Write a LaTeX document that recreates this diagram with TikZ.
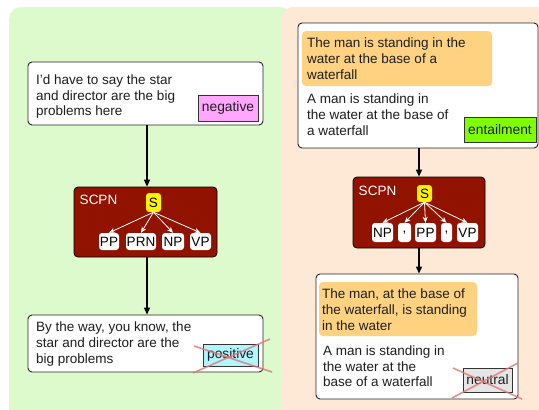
\documentclass[tikz,border=0pt]{standalone}
\usepackage{fontspec}
\setmainfont{Liberation Sans}
\usetikzlibrary{arrows.meta}
\definecolor{panelgreen}{RGB}{221,250,204}
\definecolor{panelorange}{RGB}{253,233,214}
\definecolor{scpnred}{RGB}{146,18,0}
\definecolor{premorange}{RGB}{254,210,129}
\definecolor{negpink}{RGB}{255,166,255}
\definecolor{poscyan}{RGB}{176,246,255}
\definecolor{entgreen}{RGB}{128,255,0}
\definecolor{neugray}{RGB}{229,229,229}
\definecolor{crossred}{RGB}{222,120,120}
\definecolor{txt}{RGB}{30,30,30}
\tikzset{
  panel/.style={rounded corners=12pt, draw=none},
  textbox/.style={draw=black!85, fill=white, rounded corners=4pt, line width=0.9pt, inner sep=0pt},
  premise/.style={fill=premorange, rounded corners=4pt, inner sep=0pt},
  sent/.style={anchor=north west, align=left, inner sep=0pt, text=txt, font=\fontsize{13.5}{15.6}\selectfont},
  lab/.style={draw=black!80, line width=0.6pt, inner sep=0pt, text=txt, font=\fontsize{13.8}{15}\selectfont},
  scpn/.style={draw=black, fill=scpnred, rounded corners=4pt, line width=0.8pt, inner sep=0pt},
  scpnlab/.style={text=white, inner sep=0pt, font=\fontsize{13.5}{15}\selectfont},
  root/.style={fill=yellow, rounded corners=3pt, inner sep=0pt, text=black, font=\fontsize{13.5}{15}\selectfont},
  child/.style={fill=white, rounded corners=3pt, inner sep=0pt, text=black, minimum height=17pt, font=\fontsize{13.5}{15}\selectfont},
  flow/.style={-{Triangle[length=7pt,width=6pt]}, line width=1.2pt, black},
  tree/.style={-{Stealth[length=6pt,width=5pt]}, line width=0.8pt, white},
  cross/.style={line width=1.6pt, crossred, opacity=0.8}
}
\begin{document}
\begin{tikzpicture}[x=1pt,y=-1pt]
\useasboundingbox (0,0) rectangle (539,410);
\clip (0,0) rectangle (539,410);
% panels
\fill[panelgreen, panel] (9,7) rectangle (292,422);
\fill[panelorange, panel] (281,7) rectangle (560,422);

% ===== left column =====
\node[textbox, minimum width=235pt, minimum height=63pt] (L1) at (145.5,93.5) {};
\node[sent] (L1t) at (36,74.5) {I'd have to say the star\\and director are the big\\problems here};
\node[lab, fill=negpink, minimum width=60pt, minimum height=26pt] (neg) at (228,108) {negative};

\node[scpn, minimum width=143pt, minimum height=70pt] (S1) at (145.5,222) {};
\node[scpnlab] (S1l) at (98.5,200) {SCPN};
\node[root, minimum width=15pt, minimum height=19pt] (r1) at (153.5,202.5) {S};
\node[child, minimum width=20pt] (c1a) at (109,241.5) {PP};
\node[child, minimum width=30pt] (c1b) at (141,241.5) {PRN};
\node[child, minimum width=22pt] (c1c) at (173,241.5) {NP};
\node[child, minimum width=21pt] (c1d) at (200.5,241.5) {VP};
\foreach \c in {c1a,c1b,c1c,c1d} \draw[tree] (r1.south) -- (\c.north);

\node[textbox, minimum width=235pt, minimum height=57pt] (L2) at (145.5,343.5) {};
\node[sent] (L2t) at (36,322) {By the way, you know, the\\star and director are the\\big problems};
\node[lab, fill=poscyan, minimum width=55pt, minimum height=22pt] (pos) at (230.5,355) {positive};
\coordinate (x1a) at (193,373);
\coordinate (x1b) at (270,339);
\coordinate (x1c) at (194,346);
\coordinate (x1d) at (272,372);
\draw[cross] (x1a) -- (x1b);
\draw[cross] (x1c) -- (x1d);

\coordinate (a1s) at (147,125);
\draw[flow] (L1.south -| a1s) -- (S1.north -| a1s);
\draw[flow] (S1.south -| a1s) -- (L2.north -| a1s);

% ===== right column =====
\node[textbox, minimum width=240pt, minimum height=125pt] (R1) at (418,85.5) {};
\node[premise, minimum width=190pt, minimum height=55pt] (p1) at (397,58.5) {};
\node[sent] (p1t) at (307,38) {The man is standing in the\\water at the base of a\\waterfall};
\node[sent] (h1t) at (307,94) {A man is standing in\\the water at the base of\\a waterfall};
\node[lab, fill=entgreen, minimum width=72pt, minimum height=25pt] (ent) at (500,129.5) {entailment};

\node[scpn, minimum width=132pt, minimum height=71pt] (S2) at (419,212.5) {};
\node[scpnlab] (S2l) at (377.5,191) {SCPN};
\node[root, minimum width=15pt, minimum height=17pt] (r2) at (424.5,193.5) {S};
\node[child, minimum width=21pt, minimum height=19pt] (c2a) at (382.5,232.5) {NP};
\node[child, minimum width=13pt, minimum height=19pt] (c2b) at (404.5,232.5) {,};
\node[child, minimum width=21pt, minimum height=19pt] (c2c) at (425.5,232.5) {PP};
\node[child, minimum width=11pt, minimum height=19pt] (c2d) at (446.5,232.5) {,};
\node[child, minimum width=21pt, minimum height=19pt] (c2e) at (467.5,232.5) {VP};
\foreach \c in {c2a,c2b,c2c,c2d,c2e} \draw[tree] (r2.south) -- (\c.north);

\node[textbox, minimum width=202pt, minimum height=125pt] (R2) at (417,336.5) {};
\node[premise, minimum width=158pt, minimum height=54pt] (p2) at (398,309) {};
\node[sent] (p2t) at (322,289) {The man, at the base of\\the waterfall, is standing\\in the water};
\node[sent] (h2t) at (323,345.5) {A man is standing in\\the water at the\\base of a waterfall};
\node[lab, fill=neugray, minimum width=49pt, minimum height=24pt] (neu) at (487.5,380) {neutral};
\coordinate (x2a) at (452,398);
\coordinate (x2b) at (518,363);
\coordinate (x2c) at (453,368);
\coordinate (x2d) at (522,399);
\draw[cross] (x2a) -- (x2b);
\draw[cross] (x2c) -- (x2d);

\coordinate (a2) at (419,150);
\draw[flow] (R1.south -| a2) -- (S2.north -| a2);
\draw[flow] (S2.south -| a2) -- (R2.north -| a2);
\end{tikzpicture}
\end{document}
